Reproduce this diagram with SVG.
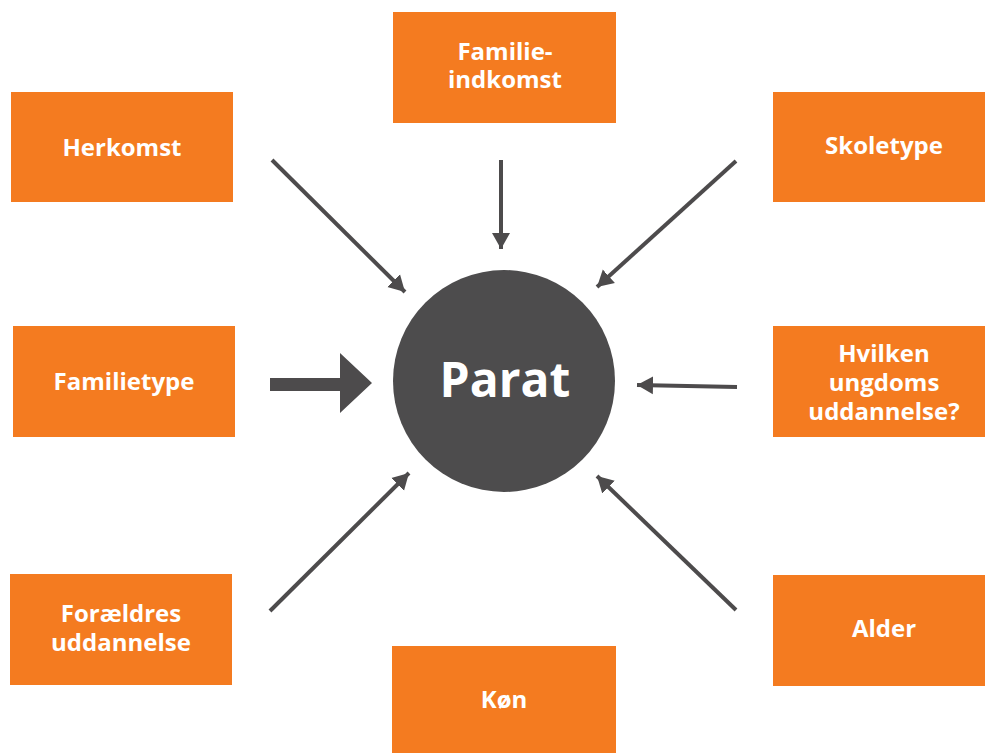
<svg xmlns="http://www.w3.org/2000/svg" width="985" height="753" viewBox="0 0 985 753">
<style>
.box{fill:#f47b20}
.lbl{fill:#fff;font-family:"Open Sans","Noto Sans","Liberation Sans",sans-serif;font-weight:bold;font-size:24px;text-anchor:middle;dominant-baseline:central}
.ln{stroke:#4d4b4c;stroke-width:4;fill:none}
</style>
<defs>
<marker id="ah" markerUnits="userSpaceOnUse" markerWidth="18" markerHeight="20" refX="16" refY="10" orient="auto" viewBox="0 0 18 20">
<path d="M0,1 L16,10 L0,19 Z" fill="#4d4b4c"/>
</marker>
</defs>
<rect width="985" height="753" fill="#fff"/>
<g id="parat">
<circle cx="504" cy="381" r="111" fill="#4d4c4d"/>
<text x="505" y="378" class="lbl" style="font-size:48px">Parat</text>
</g>
<g id="herkomst"><rect class="box" x="11" y="92" width="222" height="110"/><text class="lbl" x="122" y="146">Herkomst</text></g>
<g id="familieindkomst"><rect class="box" x="393" y="12" width="223" height="111"/><text class="lbl" x="505" y="50">Familie-</text><text class="lbl" x="505" y="78">indkomst</text></g>
<g id="skoletype"><rect class="box" x="773" y="92" width="212" height="110"/><text class="lbl" x="884" y="144">Skoletype</text></g>
<g id="familietype"><rect class="box" x="13" y="326" width="222" height="111"/><text class="lbl" x="124" y="380">Familietype</text></g>
<g id="hvilken"><rect class="box" x="773" y="326" width="212" height="111"/><text class="lbl" x="884" y="352">Hvilken</text><text class="lbl" x="884" y="381">ungdoms</text><text class="lbl" x="884" y="410">uddannelse?</text></g>
<g id="foraeldres"><rect class="box" x="10" y="574" width="222" height="111"/><text class="lbl" x="121" y="612">Forældres</text><text class="lbl" x="121" y="641">uddannelse</text></g>
<g id="koen"><rect class="box" x="392" y="646" width="224" height="107"/><text class="lbl" x="504" y="698">Køn</text></g>
<g id="alder"><rect class="box" x="773" y="575" width="212" height="111"/><text class="lbl" x="884" y="627">Alder</text></g>
<g id="connectors">
<line class="ln" x1="272" y1="160" x2="405" y2="292" marker-end="url(#ah)"/>
<line class="ln" x1="501" y1="160" x2="501" y2="249" marker-end="url(#ah)"/>
<line class="ln" x1="736" y1="161" x2="597" y2="287" marker-end="url(#ah)"/>
<path d="M270,378 H340 V353 L372,383 L340,413 V391 H270 Z" fill="#4d4b4c"/>
<line class="ln" x1="737" y1="387" x2="637" y2="385" marker-end="url(#ah)"/>
<line class="ln" x1="270" y1="611" x2="409" y2="473" marker-end="url(#ah)"/>
<line class="ln" x1="736" y1="610" x2="597" y2="476" marker-end="url(#ah)"/>
</g>
</svg>
